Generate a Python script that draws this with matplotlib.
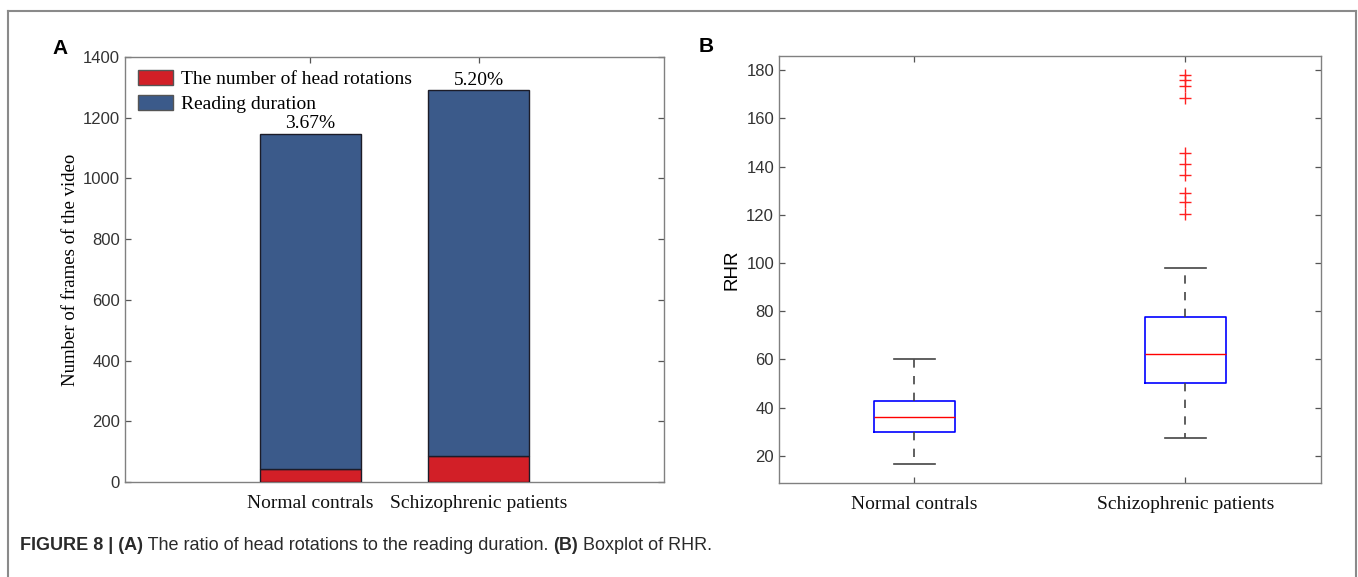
import numpy as np
import matplotlib
matplotlib.use("Agg")
import matplotlib.pyplot as plt
from matplotlib.lines import Line2D
from matplotlib.patches import Patch

# panel A data
groups = ["Normal contrals", "Schizophrenic patients"]
head_rotations = [43, 85]
reading_total = [1147, 1290]
ratio_labels = ["3.67%", "5.20%"]

# panel B data (box stats)
rhr_whislo = [16.8, 27.5]
rhr_q1 = [29.8, 50.1]
rhr_med = [36.2, 62.2]
rhr_q3 = [42.8, 77.7]
rhr_whishi = [60.2, 97.8]
rhr_fliers = [[], [178.0, 175.7, 173.4, 168.5, 145.7, 141.0, 136.4, 128.9, 125.3, 120.4]]

red = "#d21f27"
blue = "#3b5a8a"
serif = "Liberation Serif"
sans = "Liberation Sans"
spine_c = "#808080"
tick_c = "#333333"

fig = plt.figure(figsize=(13.58, 5.77), dpi=100)

def style_axes(ax):
    for s in ax.spines.values():
        s.set_color(spine_c)
        s.set_linewidth(1.0)
    ax.tick_params(direction="in", top=True, right=True, length=4, width=0.9,
                   color="#555555", labelsize=12, labelcolor=tick_c)
    for lab in ax.get_yticklabels():
        lab.set_fontfamily(sans)
    for lab in ax.get_xticklabels():
        lab.set_fontfamily(serif)
        lab.set_fontsize(14)
        lab.set_color("#111111")

# ---- A
axA = fig.add_axes([0.0920, 0.1646, 0.3969, 0.7366])
x = np.arange(1, len(groups) + 1)
reading_part = [t - h for t, h in zip(reading_total, head_rotations)]
axA.bar(x, head_rotations, width=0.6, color=red, edgecolor="#1c1c28", linewidth=1.0, zorder=3)
axA.bar(x, reading_part, bottom=head_rotations, width=0.6, color=blue,
        edgecolor="#1c1c28", linewidth=1.0, zorder=3)
for xi, t, lab in zip(x, reading_total, ratio_labels):
    axA.text(xi, t + 5, lab, ha="center", va="bottom", fontfamily=serif, fontsize=14)
axA.set_xlim(-0.1, 3.1)
axA.set_ylim(0, 1400)
axA.set_yticks(np.arange(0, 1401, 200))
axA.set_xticks(x)
axA.set_xticklabels(groups)
axA.set_ylabel("Number of frames of the video", fontfamily=serif, fontsize=13.5, labelpad=3)
style_axes(axA)
axA.tick_params(axis="x", pad=9)
handles = [Patch(facecolor=red, edgecolor="#555555", label="The number of head rotations"),
           Patch(facecolor=blue, edgecolor="#555555", label="Reading duration")]
axA.legend(handles=handles, loc="upper left", frameon=False, prop={"family": serif, "size": 14},
           handlelength=1.8, handleheight=0.85, handletextpad=0.45, labelspacing=0.35,
           borderaxespad=0.35, borderpad=0.3)

# ---- B
axB = fig.add_axes([0.5736, 0.1629, 0.3991, 0.7400])
stats = []
for i in range(len(groups)):
    stats.append({"whislo": rhr_whislo[i], "q1": rhr_q1[i], "med": rhr_med[i],
                  "q3": rhr_q3[i], "whishi": rhr_whishi[i], "fliers": rhr_fliers[i]})
axB.bxp(stats, positions=x, widths=0.3, showfliers=True,
        boxprops=dict(color="#0000ff", linewidth=1.2),
        medianprops=dict(color="#ff0000", linewidth=1.0),
        whiskerprops=dict(color="#444444", linestyle=(0, (5, 5)), linewidth=1.2),
        capprops=dict(color="#444444", linewidth=1.2),
        capwidths=0.15,
        flierprops=dict(marker="+", markeredgecolor="#ff2020", markersize=9,
                        markeredgewidth=1.0, linestyle="none"))
axB.set_xlim(0.5, 2.5)
axB.set_ylim(8.8, 185.8)
axB.set_yticks(np.arange(20, 181, 20))
axB.set_xticks(x)
axB.set_xticklabels(groups)
axB.set_ylabel("RHR", fontfamily=sans, fontsize=13.5, labelpad=4)
style_axes(axB)
axB.tick_params(axis="x", pad=9)

# panel letters
fig.text(60 / 1358, 1 - 48 / 577, "A", fontfamily=sans, fontweight="bold", fontsize=15,
         ha="center", va="center")
fig.text(706 / 1358, 1 - 47 / 577, "B", fontfamily=sans, fontweight="bold", fontsize=15,
         ha="center", va="center")

# frame around figure (open at the bottom)
fx0, fx1, fy1 = 8 / 1358, 1356 / 1358, 1 - 11 / 577
for xs, ys in [([fx0, fx0], [0, fy1]), ([fx0, fx1], [fy1, fy1]), ([fx1, fx1], [fy1, 0])]:
    fig.add_artist(Line2D(xs, ys, transform=fig.transFigure, color="#8a8a8a", linewidth=1.5))

# caption with bold parts
caption = [("FIGURE 8 | (A)", True), (" The ratio of head rotations to the reading duration. ", False),
           ("(B)", True), (" Boxplot of RHR.", False)]
renderer = fig.canvas.get_renderer()
cx = 20 / 1358
cy = 1 - 546 / 577
for txt, bold in caption:
    t = fig.text(cx, cy, txt, fontfamily=sans, fontsize=13, color="#2a2a2a",
                 fontweight="bold" if bold else "normal", ha="left", va="center")
    bb = t.get_window_extent(renderer=renderer)
    cx += bb.width / fig.bbox.width

fig.savefig("out.png", dpi=100)
